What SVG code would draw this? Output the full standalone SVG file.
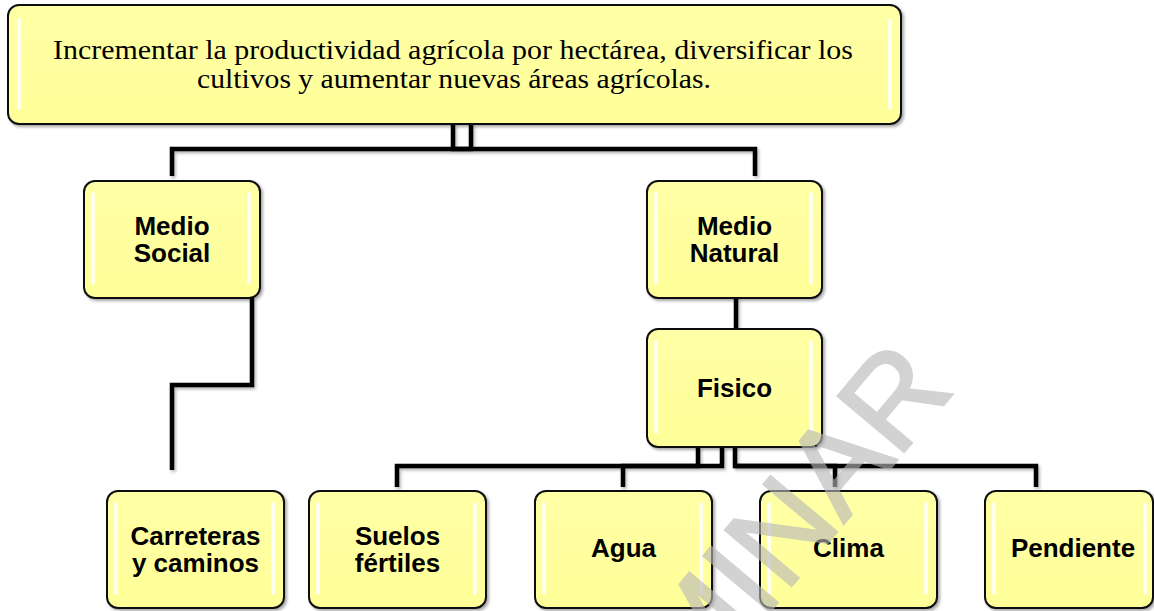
<svg xmlns="http://www.w3.org/2000/svg" width="1154" height="611" viewBox="0 0 1154 611">
<defs>
  <linearGradient id="boxFill" x1="0" y1="0" x2="0" y2="1">
    <stop offset="0" stop-color="#ffffa6"/>
    <stop offset="1" stop-color="#ffff99"/>
  </linearGradient>
  <filter id="shadow" x="-10%" y="-10%" width="130%" height="130%">
    <feDropShadow dx="2" dy="2" stdDeviation="1.5" flood-color="#000" flood-opacity="0.35"/>
  </filter>
  <filter id="lshadow" x="-5%" y="-5%" width="110%" height="120%">
    <feDropShadow dx="1.5" dy="2" stdDeviation="1.5" flood-color="#000" flood-opacity="0.3"/>
  </filter>
</defs>
<style>
  .box { fill: url(#boxFill); stroke: #111; stroke-width: 2; filter: url(#shadow); }
  .hl { stroke: #fff; stroke-width: 3.5; stroke-linecap: round; opacity: 0.95; }
  .lbl { font-family: "Liberation Sans", Arial, sans-serif; font-weight: bold; font-size: 26px; fill: #000; text-anchor: middle; }
  .top { font-family: "Liberation Serif", "Times New Roman", serif; font-size: 28px; fill: #000; text-anchor: middle; }
  .conn { fill: none; stroke: #000; stroke-width: 4.5; stroke-linejoin: miter; stroke-linecap: butt; }
  .wm { font-family: "Liberation Sans", Arial, sans-serif; font-size: 126px; fill: #b8b8b8; stroke: #b8b8b8; stroke-width: 2.5; opacity: 0.62; }
</style>

<g id="connectors" filter="url(#lshadow)">
  <path class="conn" d="M471,124 V149 H172 V176"/>
  <path class="conn" d="M453,124 V149 H755 V176"/>
  <path class="conn" d="M252,298 V385 H172 V470"/>
  <path class="conn" d="M736,298 V329"/>
  <path class="conn" d="M698,447 V466 H623 V487"/>
  <path class="conn" d="M722,447 V466 H397 V487"/>
  <path class="conn" d="M735,447 V466 H835 V487"/>
  <path class="conn" d="M735,466 H1036 V487"/>
</g>

<g id="node-top">
  <rect class="box" x="8" y="5" width="893" height="119" rx="11"/>
  <line class="hl" x1="19" y1="20" x2="19" y2="108"/>
  <line class="hl" x1="890" y1="20" x2="890" y2="108"/>
  <text class="top" x="453" y="59" textLength="800" lengthAdjust="spacingAndGlyphs">Incrementar la productividad agrícola por hectárea, diversificar los</text>
  <text class="top" x="454" y="88" textLength="514" lengthAdjust="spacingAndGlyphs">cultivos y aumentar nuevas áreas agrícolas.</text>
</g>

<g id="node-medio-social">
  <rect class="box" x="84" y="181" width="176" height="117" rx="11"/>
  <line class="hl" x1="93" y1="194" x2="93" y2="283"/>
  <line class="hl" x1="249" y1="194" x2="249" y2="283"/>
  <text class="lbl" x="172" y="235">Medio</text>
  <text class="lbl" x="172" y="262">Social</text>
</g>

<g id="node-medio-natural">
  <rect class="box" x="647" y="181" width="175" height="117" rx="11"/>
  <line class="hl" x1="656" y1="194" x2="656" y2="283"/>
  <line class="hl" x1="811" y1="194" x2="811" y2="283"/>
  <text class="lbl" x="734.5" y="235">Medio</text>
  <text class="lbl" x="734.5" y="262">Natural</text>
</g>

<g id="node-fisico">
  <rect class="box" x="647" y="329" width="175" height="118" rx="11"/>
  <line class="hl" x1="656" y1="342" x2="656" y2="432"/>
  <line class="hl" x1="811" y1="342" x2="811" y2="432"/>
  <text class="lbl" x="734.5" y="397">Fisico</text>
</g>

<g id="node-carreteras">
  <rect class="box" x="107" y="491" width="177" height="117" rx="11"/>
  <line class="hl" x1="116" y1="504" x2="116" y2="593"/>
  <line class="hl" x1="273" y1="504" x2="273" y2="593"/>
  <text class="lbl" x="195.5" y="545">Carreteras</text>
  <text class="lbl" x="195.5" y="572">y caminos</text>
</g>

<g id="node-suelos">
  <rect class="box" x="309" y="491" width="177" height="117" rx="11"/>
  <line class="hl" x1="318" y1="504" x2="318" y2="593"/>
  <line class="hl" x1="475" y1="504" x2="475" y2="593"/>
  <text class="lbl" x="397.5" y="545">Suelos</text>
  <text class="lbl" x="397.5" y="572">fértiles</text>
</g>

<g id="node-agua">
  <rect class="box" x="535" y="491" width="177" height="117" rx="11"/>
  <line class="hl" x1="544" y1="504" x2="544" y2="593"/>
  <line class="hl" x1="701" y1="504" x2="701" y2="593"/>
  <text class="lbl" x="623.5" y="557">Agua</text>
</g>

<g id="node-clima">
  <rect class="box" x="760" y="491" width="177" height="117" rx="11"/>
  <line class="hl" x1="769" y1="504" x2="769" y2="593"/>
  <line class="hl" x1="926" y1="504" x2="926" y2="593"/>
  <text class="lbl" x="848.5" y="557">Clima</text>
</g>

<g id="node-pendiente">
  <rect class="box" x="985" y="491" width="168" height="117" rx="11"/>
  <line class="hl" x1="994" y1="504" x2="994" y2="593"/>
  <line class="hl" x1="1145" y1="504" x2="1145" y2="593"/>
  <text class="lbl" x="1073" y="557">Pendiente</text>
</g>

<g id="watermark">
  <text class="wm" x="956" y="390" text-anchor="end" transform="rotate(-50 956 390)">PRELIMINAR</text>
</g>
</svg>
